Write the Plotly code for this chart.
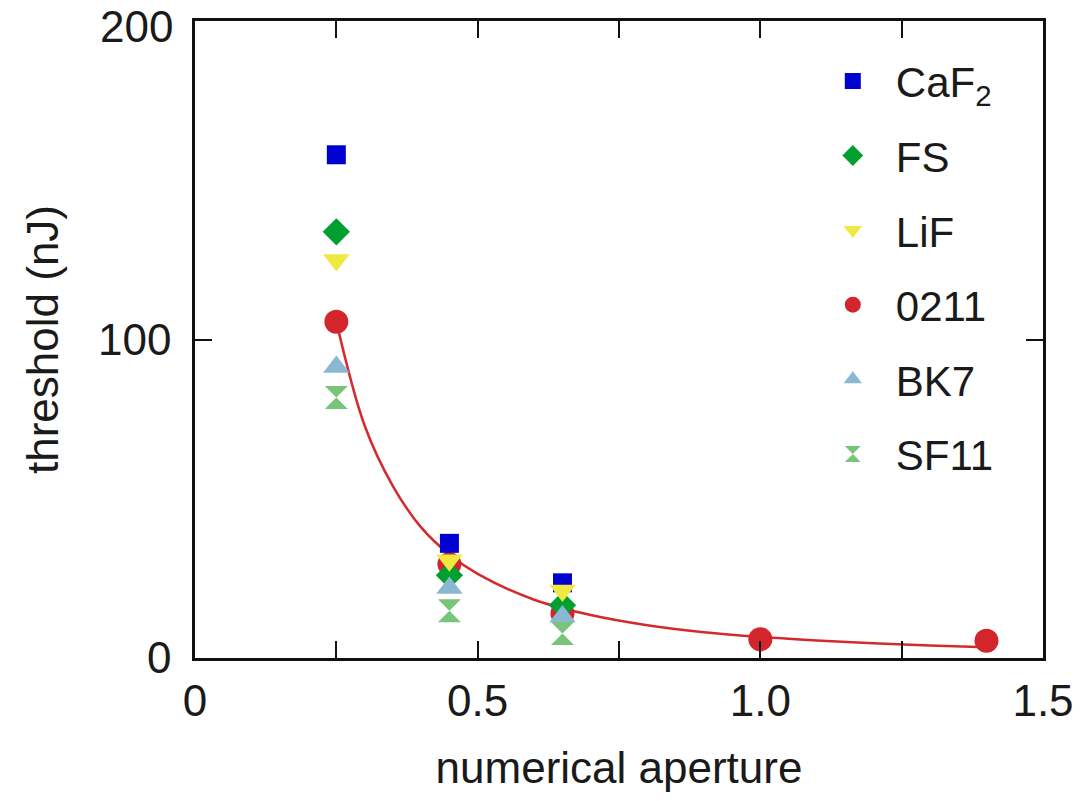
import plotly.graph_objects as go

# ---- data ----
na_main = [0.25, 0.45, 0.65]
caf2 = [158.0, 36.0, 23.6]
fs = [133.8, 26.0, 16.6]
lif = [125.0, 30.7, 21.2]
bk7 = [91.4, 22.0, 13.0]
sf11 = [81.8, 14.8, 7.7]

na_0211 = [0.25, 0.45, 0.65, 1.0, 1.4]
g0211 = [105.6, 29.5, 14.0, 5.9, 5.4]

# fitted curve, points
fit_na = [0.25, 0.30, 0.35, 0.40, 0.45, 0.50, 0.60, 0.70, 0.80, 0.90, 1.00, 1.10, 1.20, 1.30, 1.40]
fit_thr = [105.6, 73.0, 54.0, 41.0, 32.5, 26.4, 18.3, 13.5, 10.3, 8.1, 6.6, 5.5, 4.6, 3.9, 3.4]

x_tickvals = [0, 0.5, 1.0, 1.5]
x_ticktext = ["0", "0.5", "1.0", "1.5"]
x_minor_step = 0.25
y_tickvals = [0, 100]
y_ticktext = ["0", "100"]
y_top_value = 200
y_top_label = "200"

FONT = "Liberation Sans, Arial, sans-serif"
TXT = "#1a1a1a"
AX = "#111111"

fig = go.Figure()

fig.add_trace(go.Scatter(x=fit_na, y=fit_thr, mode="lines", line=dict(color="#D42A2E", width=2.5, shape="spline"),
                         showlegend=False, hoverinfo="skip"))

series = [
    ("0211", na_0211, g0211, "circle", 24, "#D2262C", 4),
    ("CaF<sub>2</sub>", na_main, caf2, "square", 19, "#0000D0", 1),
    ("FS", na_main, fs, "diamond", 21, "#00A030", 2),
    ("LiF", na_main, lif, "triangle-down", 23, "#EEE840", 3),
    ("BK7", na_main, bk7, "triangle-up", 23, "#8AB8D2", 5),
    ("SF11", na_main, sf11, "hourglass", 23, "#78C478", 6),
]
for name, xs, ys, sym, sz, col, rank in series:
    fig.add_trace(go.Scatter(x=xs, y=ys, mode="markers", name=name, legendrank=rank,
                             legendgroup=name,
                             marker=dict(symbol=sym, size=sz, color=col, line=dict(width=0))))

axis_common = dict(showgrid=False, zeroline=False, showline=True, linecolor=AX, linewidth=2.5,
                   ticks="inside", ticklen=17, tickwidth=2, tickcolor=AX, mirror="ticks",
                   ticklabeloverflow="allow",
                   tickfont=dict(family=FONT, size=44, color=TXT))

fig.update_xaxes(range=[0, 1.5], tickmode="array", tickvals=x_tickvals, ticktext=x_ticktext,
                 minor=dict(dtick=x_minor_step, tick0=0, ticks="inside", ticklen=17, tickwidth=2, tickcolor=AX,
                            showgrid=False),
                 ticklabelstandoff=2,
                 title=dict(text="numerical aperture", font=dict(family=FONT, size=44, color=TXT), standoff=29),
                 **axis_common)
fig.update_yaxes(range=[0, 200], tickmode="array", tickvals=y_tickvals, ticktext=y_ticktext,
                 ticklabelstandoff=12,
                 title=dict(text="threshold (nJ)", font=dict(family=FONT, size=44, color=TXT), standoff=26),
                 **axis_common)

# top y label, nudged slightly down as in the reference
fig.add_annotation(x=0, xref="paper", y=y_top_value, yref="y", text=y_top_label, showarrow=False,
                   xanchor="right", yanchor="middle", xshift=-20, yshift=-5,
                   font=dict(family=FONT, size=44, color=TXT))

fig.update_layout(
    width=1082, height=801,
    margin=dict(l=195, r=39, t=21, b=143, autoexpand=False),
    paper_bgcolor="white", plot_bgcolor="white",
    font=dict(family=FONT, color=TXT),
    showlegend=True,
    legend=dict(x=0.725, y=0.959, xanchor="left", yanchor="top", bgcolor="rgba(0,0,0,0)",
                itemwidth=76,
                font=dict(family=FONT, size=42, color=TXT), tracegroupgap=17, traceorder="grouped"),
)

fig.write_html("out.html", config={"displayModeBar": False},
               post_script="document.body.style.margin='0';document.body.style.overflow='hidden';")
